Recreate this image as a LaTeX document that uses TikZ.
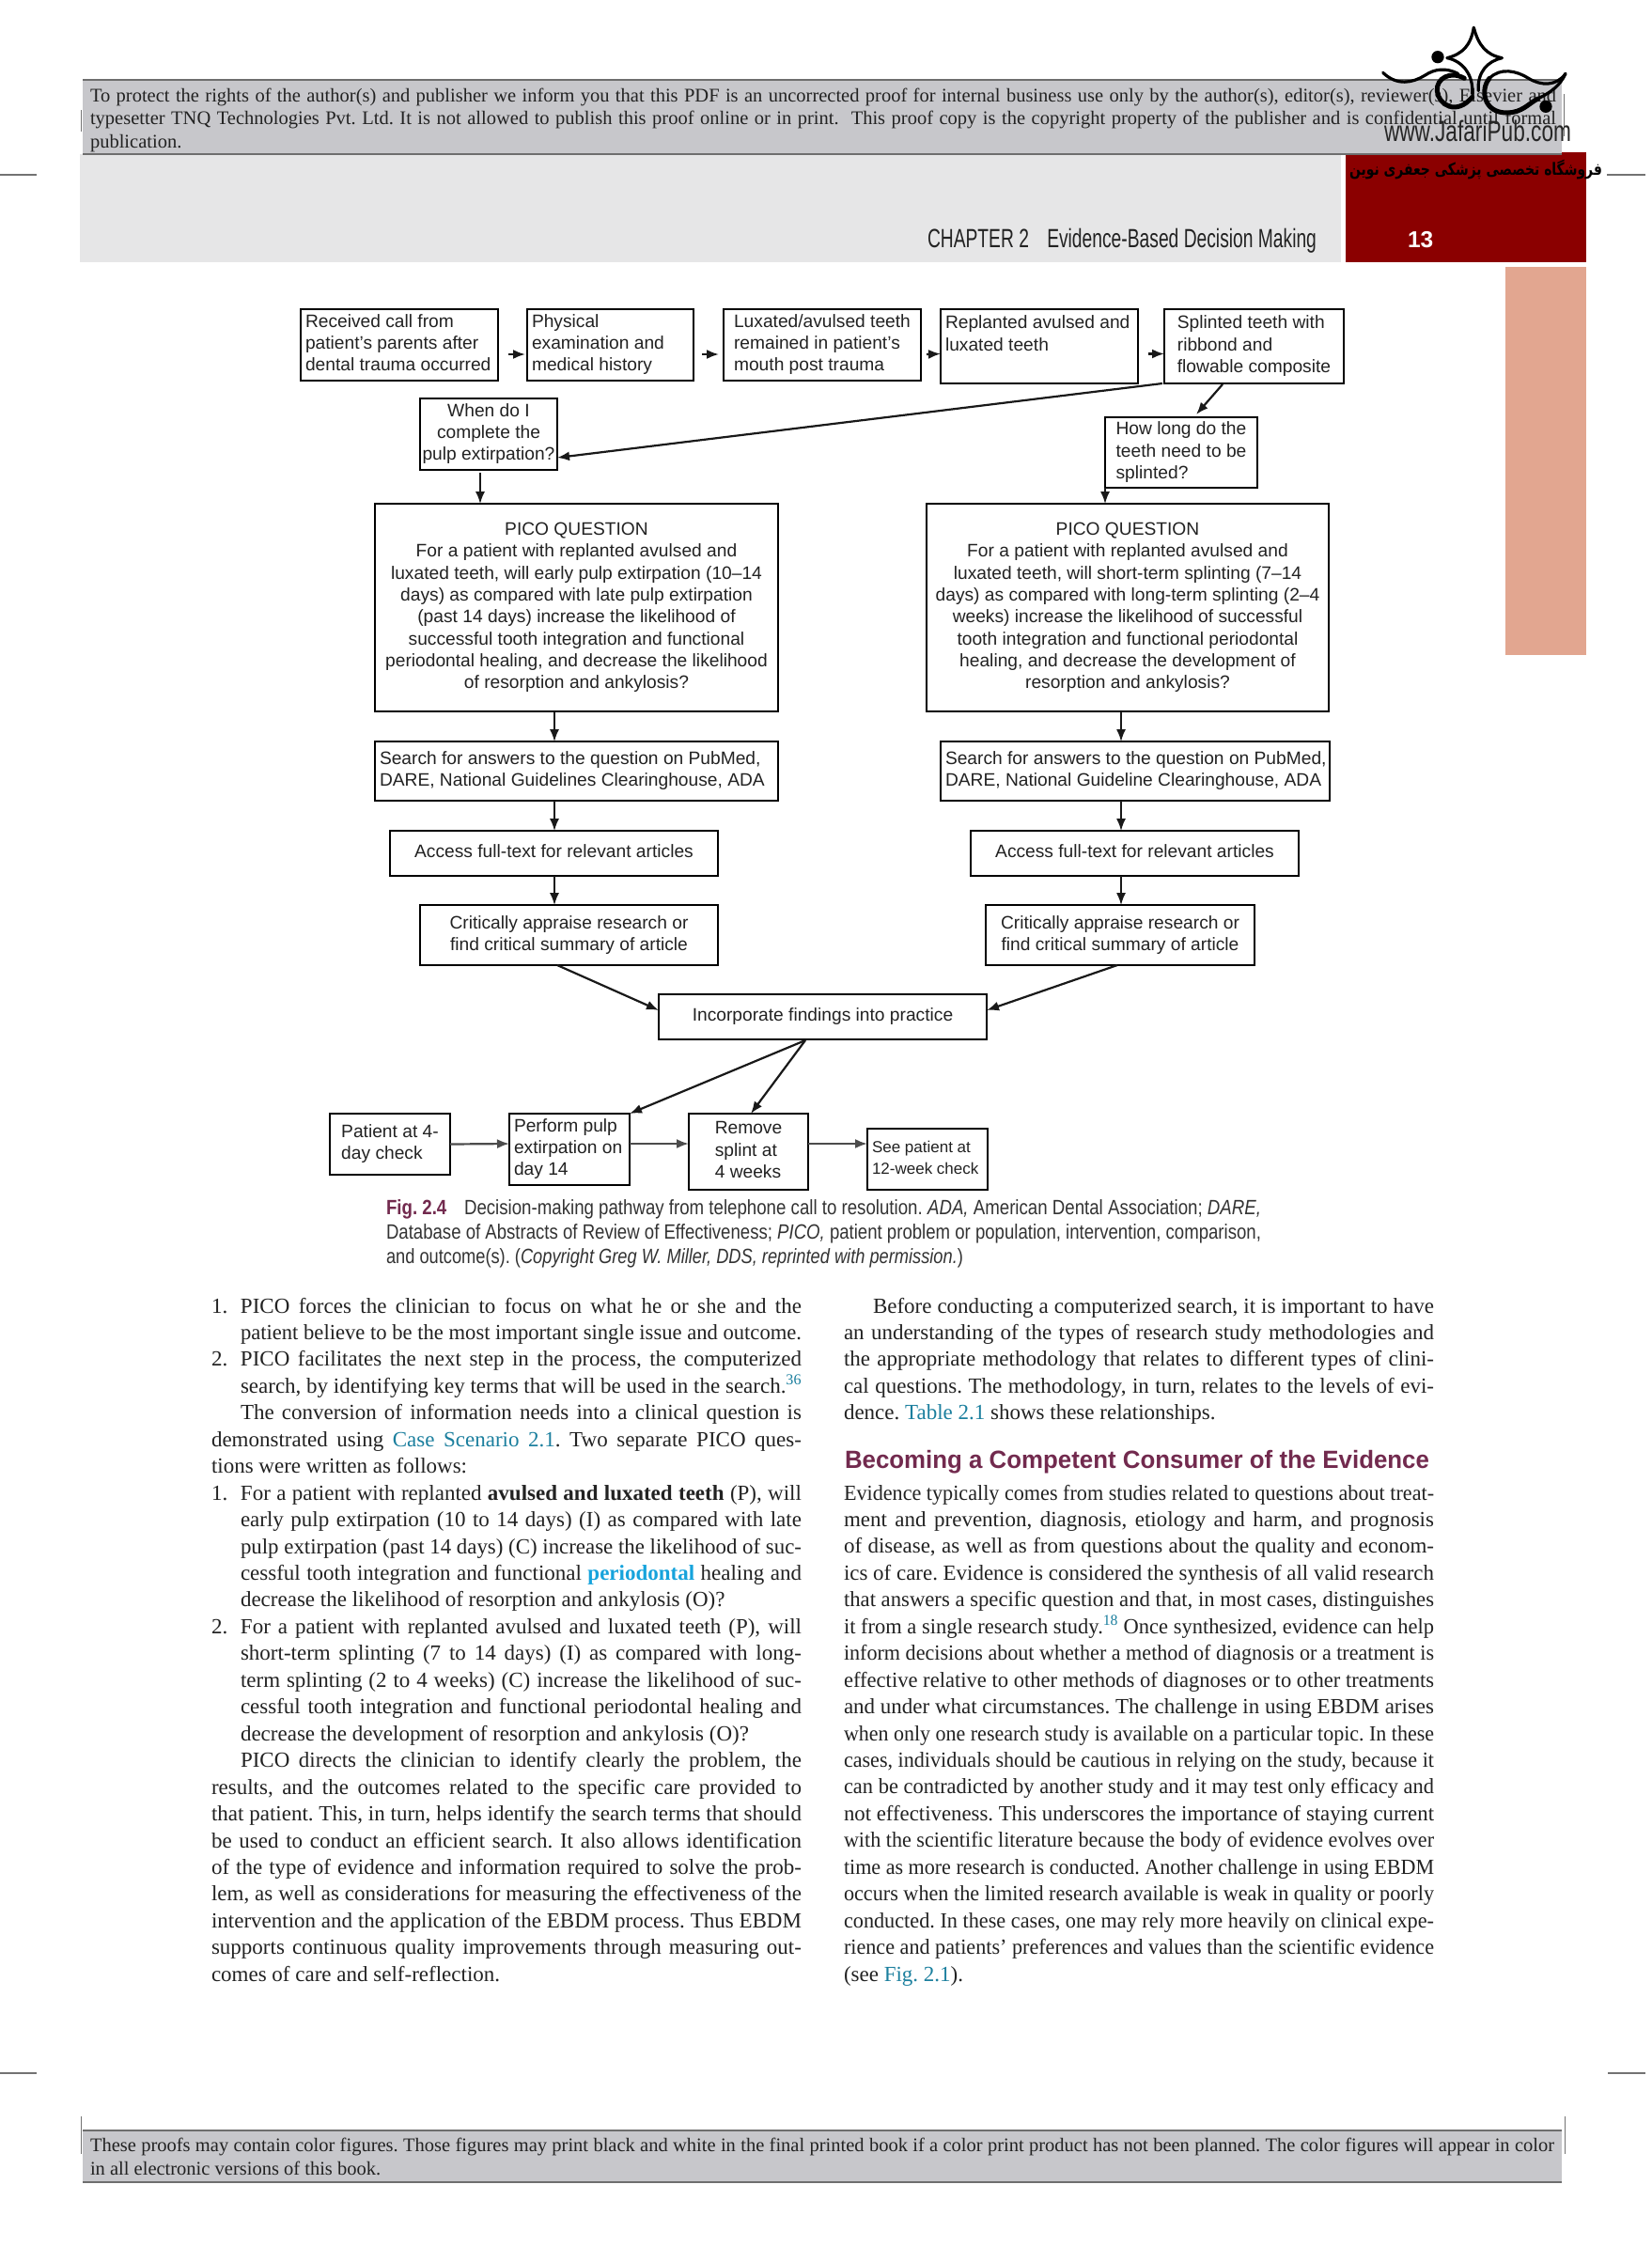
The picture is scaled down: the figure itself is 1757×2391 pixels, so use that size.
\documentclass[tikz,border=0pt]{standalone}
\usepackage{fontspec}
\usepackage{graphicx}
\usetikzlibrary{arrows.meta,calc}
\setmainfont{Liberation Serif}
\newfontfamily\arial{Liberation Sans}
\newfontfamily\farsi[Script=Arabic]{DejaVu Sans}
\TeXXeTstate=1
\frenchspacing
\definecolor{redband}{HTML}{8B0000}
\definecolor{salmon}{HTML}{E2A690}
\definecolor{band}{HTML}{E6E6E7}
\definecolor{proof}{HTML}{C7C7CB}
\definecolor{prooflin}{HTML}{6E6E6E}
\definecolor{linkc}{HTML}{1B7F9E}
\definecolor{brightl}{HTML}{16A3DC}
\definecolor{plum}{HTML}{722A4E}
\definecolor{ink}{HTML}{222222}
\newcommand{\boxfont}{\arial\fontsize{19.2}{23.3}\selectfont}
\newcommand{\bx}[8]{%
  \pgfmathsetmacro\bxw{#6-#4}\pgfmathsetmacro\bxh{#7-#5}%
  \pgfmathsetmacro\bxi{#6-#4-10}%
  \node[flowbox,minimum width=\bxw pt,minimum height=\bxh pt] (#3) at ({(#4+#6)/2},{(#5+#7)/2})
    {\raisebox{-1.5pt}{\makebox[\bxi pt][#1]{\begin{tabular}{@{}#2@{}}#8\end{tabular}}}};}
\newlength\bodyw
\newlength\tmpw
\newcommand{\fitto}[2]{\setlength\tmpw{#1}\setbox0\hbox{#2}%
  \ifdim\wd0>\tmpw\resizebox{\tmpw}{\height}{\box0}\else\hbox to \tmpw{#2}\fi}
\newcommand{\Jl}[1]{\hbox to \bodyw{\fitto{\bodyw}{#1}}}
\newcommand{\Ji}[1]{\hbox to \bodyw{\hskip31pt\fitto{\dimexpr\bodyw-31pt\relax}{#1}}}
\newcommand{\Jn}[2]{\hbox to \bodyw{\hbox to 31pt{#1\hfil}\fitto{\dimexpr\bodyw-31pt\relax}{#2}}}
\newcommand{\El}[1]{\hbox{#1}}
\newcommand{\Ei}[1]{\hbox{\hskip31pt #1}}
\newcommand{\lnk}[1]{\textcolor{linkc}{#1}}
\newcommand{\sups}[1]{\textsuperscript{\textcolor{linkc}{#1}}}
\newcommand{\bodyset}{\setlength\bodyw{628pt}\fontsize{23}{28.45}\selectfont\baselineskip=28.45pt\lineskiplimit=-100pt\lineskip=0pt}
\tikzset{
  flowbox/.style={draw=black,line width=2.3pt,fill=white,inner sep=0pt,outer sep=0pt,font=\boxfont,text=ink},
  arr/.style={-{Latex[length=13pt,width=10pt]},line width=2.2pt,draw=black!90},
  soft/.style={-{Latex[length=13pt,width=10pt]},line width=2.2pt,draw=black!70},
  crop/.style={draw=black!55,line width=1.5pt},
  txt/.style={inner sep=0pt,outer sep=0pt,anchor=base west,text=ink},
  logo/.style={draw=black,line width=3.2pt,line cap=round}
}
\begin{document}
\begin{tikzpicture}[x=1pt,y=-1pt]
\useasboundingbox (0,0) rectangle (1757,2391);
\fill[white] (0,0) rectangle (1757,2391);
% crop marks
\draw[crop] (0,186) -- (39,186);
\draw[crop] (1710,186) -- (1751,186);
\draw[crop] (0,2206) -- (39,2206);
\draw[crop] (1711,2206) -- (1751,2206);
\draw[black!55,line width=1pt] (86,117) -- (86,140);
\draw[black!55,line width=1pt] (1664,100) -- (1664,145);
\draw[black!55,line width=1pt] (86,2252) -- (86,2292);
\draw[black!55,line width=1pt] (1665,2252) -- (1665,2292);
% page head
\fill[band] (85,164) rectangle (1427,279);
\fill[redband] (1432,162) rectangle (1688,279);
\fill[salmon] (1602,284) rectangle (1688,697);
\fill[proof] (88,85) rectangle (1662,164);
\draw[prooflin,line width=2pt] (88,85) -- (1662,85);
\draw[prooflin,line width=2pt] (88,164) -- (1662,164);
\node[txt] (protect) at (96,108) {\vtop{\fontsize{20.5}{24.6}\selectfont\baselineskip=24.6pt\lineskiplimit=-100pt
  \hbox{\fitto{1560pt}{To protect the rights of the author(s) and publisher we inform you that this PDF is an uncorrected proof for internal business use only by the author(s), editor(s), reviewer(s), Elsevier and}}
  \hbox{\fitto{1560pt}{typesetter TNQ Technologies Pvt. Ltd. It is not allowed to publish this proof online or in print.\ \ This proof copy is the copyright property of the publisher and is confidential until formal}}
  \hbox{publication.}}};
\node[txt,font=\arial\fontsize{28}{30}\selectfont] (chap) at (987,263) {\resizebox{414pt}{\height}{CHAPTER 2\quad Evidence-Based Decision Making}};
\node[txt,text=white,font=\arial\bfseries\fontsize{24.5}{30}\selectfont] (pageno) at (1498,263) {13};
% logo
\begin{scope}[shift={(1460,20)},x=0.3333pt,y=-0.3333pt]
\fill[black] (210,122) circle (20);
\fill[black] (555,280) circle (20);
\draw[logo] (325,28) .. controls (315,85) and (290,112) .. (240,125);
\draw[logo] (325,28) .. controls (340,85) and (365,115) .. (415,125);
\draw[logo] (240,125) .. controls (290,135) and (325,180) .. (320,240);
\draw[logo] (415,125) .. controls (370,135) and (335,170) .. (340,230);
\draw[logo] (35,172) .. controls (80,215) and (130,205) .. (170,180) .. controls (200,160) and (235,155) .. (275,175);
\draw[logo,line width=5pt] (295,190) .. controls (250,165) and (205,190) .. (208,230) .. controls (212,275) and (270,310) .. (320,250);
\draw[logo] (618,175) .. controls (590,215) and (540,215) .. (500,190) .. controls (460,165) and (410,155) .. (375,190);
\draw[logo,line width=5pt] (375,190) .. controls (345,225) and (355,300) .. (430,300) .. controls (480,300) and (500,270) .. (530,255);
\draw[logo] (530,255) .. controls (570,235) and (600,215) .. (618,175);
\end{scope}
\node[txt,text=black!85,font=\arial\fontsize{31}{32}\selectfont] (wm) at (1473,150) {\resizebox{199pt}{\height}{www.JafariPub.com}};
\node[txt,text=black,font=\farsi\bfseries\fontsize{18}{20}\selectfont] (shop) at (1436,186) {\resizebox{269pt}{\height}{\beginR فروشگاه تخصصی پزشکی جعفری نوین\endR}};
% flow chart
\bx{l}{l}{b1}{320}{329}{530}{405}{Received call from\\patient’s parents after\\dental trauma occurred}
\bx{l}{l}{b2}{561}{329}{738}{405}{Physical\\examination and\\medical history}
\bx{c}{l}{b3}{770}{329}{980}{405}{Luxated/avulsed teeth\\remained in patient’s\\mouth post trauma}
\bx{l}{l}{b4}{1001}{329}{1211}{408}{Replanted avulsed and\\luxated teeth\\\phantom{x}}
\bx{c}{l}{b5}{1239}{329}{1430}{408}{Splinted teeth with\\ribbond and\\flowable composite}
\bx{c}{c}{when}{447}{424}{593}{500}{When do I\\complete the\\pulp extirpation?}
\bx{c}{l}{how}{1176}{444}{1338}{519}{How long do the\\teeth need to be\\splinted?}
\bx{c}{c}{pL}{399}{536}{828}{757}{PICO QUESTION\\For a patient with replanted avulsed and\\luxated teeth, will early pulp extirpation (10–14\\days) as compared with late pulp extirpation\\(past 14 days) increase the likelihood of\\successful tooth integration and functional\\periodontal healing, and decrease the likelihood\\of resorption and ankylosis?}
\bx{c}{c}{pR}{986}{536}{1414}{757}{PICO QUESTION\\For a patient with replanted avulsed and\\luxated teeth, will short-term splinting (7–14\\days) as compared with long-term splinting (2–4\\weeks) increase the likelihood of successful\\tooth integration and functional periodontal\\healing, and decrease the development of\\resorption and ankylosis?}
\bx{l}{l}{sL}{399}{789}{828}{852}{Search for answers to the question on PubMed,\\DARE, National Guidelines Clearinghouse, ADA}
\bx{l}{l}{sR}{1001}{789}{1415}{852}{Search for answers to the question on PubMed,\\DARE, National Guideline Clearinghouse, ADA}
\bx{c}{c}{aL}{415}{884}{764}{932}{Access full-text for relevant articles}
\bx{c}{c}{aR}{1033}{884}{1382}{932}{Access full-text for relevant articles}
\bx{c}{c}{cL}{447}{963}{764}{1027}{Critically appraise research or\\find critical summary of article}
\bx{c}{c}{cR}{1049}{963}{1335}{1027}{Critically appraise research or\\find critical summary of article}
\bx{c}{c}{inc}{701}{1058}{1050}{1106}{Incorporate findings into practice}
\bx{c}{l}{pat}{351}{1185}{479}{1250}{Patient at 4-\\day check}
\bx{l}{l}{perf}{542}{1185}{670}{1261}{Perform pulp\\extirpation on\\day 14}
\bx{c}{l}{rem}{733}{1185}{860}{1266}{Remove\\splint at\\4 weeks}
\bx{l}{l}{see}{923}{1201}{1051}{1266}{\fontsize{17}{23.3}\selectfont See patient at\\\fontsize{17}{23.3}\selectfont 12-week check}
% connectors
\draw[arr] ($(b1.east)+(11,10)$) -- ($(b2.west)+(-2,10)$);
\draw[arr] ($(b2.east)+(9,10)$) -- ($(b3.west)+(-5,10)$);
\draw[arr] ($(b3.east)+(6,10)$) -- ($(b4.west)+(0,8)$);
\draw[arr] ($(b4.east)+(11,8)$) -- ($(b5.west)+(0,8)$);
\draw[arr] ($(b5.south west)+(-2,0)$) -- ($(when.east)+(0,25)$);
\draw[arr] ($(b5.south)+(-33.5,1)$) -- ($(how.north)+(16,-3)$);
\draw[arr,line width=1.6pt] ($(when.south)+(-9,3)$) -- ($(pL.north)+(-102.5,0)$);
\draw[arr,line width=1.6pt] (how.south west) -- ($(pR.north)+(-24,0)$);
\draw[arr,line width=1.6pt] ($(pL.south)+(-23.5,0)$) -- ($(sL.north)+(-23.5,0)$);
\draw[arr,line width=1.6pt] ($(pR.south)+(-7,0)$) -- ($(sR.north)+(-15,0)$);
\draw[arr,line width=1.6pt] ($(sL.south)+(-23.5,0)$) -- ($(aL.north)+(0.5,0)$);
\draw[arr,line width=1.6pt] ($(sR.south)+(-15,0)$) -- ($(aR.north)+(-14.5,0)$);
\draw[arr,line width=1.6pt] ($(aL.south)+(0.5,0)$) -- ($(cL.north)+(-15.5,0)$);
\draw[arr,line width=1.6pt] ($(aR.south)+(-14.5,0)$) -- ($(cR.north)+(1,0)$);
\draw[arr] ($(cL.south)+(-12.5,0)$) -- ($(inc.west)+(0,-7)$);
\draw[arr] ($(cR.south)+(-3,0)$) -- ($(inc.east)+(0,-7)$);
\draw[arr] ($(inc.south)+(-18.5,1)$) -- (perf.north east);
\draw[arr] ($(inc.south)+(-18.5,1)$) -- ($(rem.north)+(2.5,0)$);
\draw[soft] ($(pat.east)+(0,0)$) -- ($(perf.west)+(0,-6)$);
\draw[soft] ($(perf.east)+(0,-6)$) -- ($(rem.west)+(0,-8.5)$);
\draw[soft] ($(rem.east)+(0,-8.5)$) -- ($(see.west)+(0,-16.5)$);
% caption
\node[txt,font=\arial\fontsize{22}{26}\selectfont,text=black!80] (cap) at (411,1292) {\vtop{\baselineskip=26pt\lineskiplimit=-100pt
  \hbox{\fitto{931pt}{\textcolor{plum}{\bfseries Fig. 2.4}\quad Decision-making pathway from telephone call to resolution. \emph{ADA,} American Dental Association; \emph{DARE,}}}
  \hbox{\fitto{931pt}{Database of Abstracts of Review of Effectiveness; \emph{PICO,} patient problem or population, intervention, comparison,}}
  \hbox{\resizebox{614pt}{\height}{and outcome(s). (\emph{Copyright Greg W. Miller, DDS, reprinted with permission.})}}}};
% left column
\node[txt] (colL) at (225,1397) {\vtop{\bodyset
\Jn{1.}{PICO forces the clinician to focus on what he or she and the}
\Ji{patient believe to be the most important single issue and outcome.}
\Jn{2.}{PICO facilitates the next step in the process, the computerized}
\Ji{search, by identifying key terms that will be used in the search.\sups{36}}
\Ji{The conversion of information needs into a clinical question is}
\Jl{demonstrated using \lnk{Case Scenario 2.1}. Two separate PICO ques-}
\El{tions were written as follows:}
\Jn{1.}{For a patient with replanted \textbf{avulsed and luxated teeth} (P), will}
\Ji{early pulp extirpation (10 to 14 days) (I) as compared with late}
\Ji{pulp extirpation (past 14 days) (C) increase the likelihood of suc-}
\Ji{cessful tooth integration and functional \textcolor{brightl}{\textbf{periodontal}} healing and}
\Ei{decrease the likelihood of resorption and ankylosis (O)?}
\Jn{2.}{For a patient with replanted avulsed and luxated teeth (P), will}
\Ji{short-term splinting (7 to 14 days) (I) as compared with long-}
\Ji{term splinting (2 to 4 weeks) (C) increase the likelihood of suc-}
\Ji{cessful tooth integration and functional periodontal healing and}
\Ei{decrease the development of resorption and ankylosis (O)?}
\Ji{PICO directs the clinician to identify clearly the problem, the}
\Jl{results, and the outcomes related to the specific care provided to}
\Jl{that patient. This, in turn, helps identify the search terms that should}
\Jl{be used to conduct an efficient search. It also allows identification}
\Jl{of the type of evidence and information required to solve the prob-}
\Jl{lem, as well as considerations for measuring the effectiveness of the}
\Jl{intervention and the application of the EBDM process. Thus EBDM}
\Jl{supports continuous quality improvements through measuring out-}
\El{comes of care and self-reflection.}
}};
% right column
\node[txt] (colR1) at (898,1397) {\vtop{\bodyset
\Ji{Before conducting a computerized search, it is important to have}
\Jl{an understanding of the types of research study methodologies and}
\Jl{the appropriate methodology that relates to different types of clini-}
\Jl{cal questions. The methodology, in turn, relates to the levels of evi-}
\El{dence. \lnk{Table 2.1} shows these relationships.}
}};
\node[txt,text=plum,font=\arial\bfseries\fontsize{26.5}{30}\selectfont] (head) at (899,1562) {\resizebox{622pt}{\height}{Becoming a Competent Consumer of the Evidence}};
\node[txt] (colR2) at (898,1596) {\vtop{\bodyset
\Jl{Evidence typically comes from studies related to questions about treat-}
\Jl{ment and prevention, diagnosis, etiology and harm, and prognosis}
\Jl{of disease, as well as from questions about the quality and econom-}
\Jl{ics of care. Evidence is considered the synthesis of all valid research}
\Jl{that answers a specific question and that, in most cases, distinguishes}
\Jl{it from a single research study.\sups{18} Once synthesized, evidence can help}
\Jl{inform decisions about whether a method of diagnosis or a treatment is}
\Jl{effective relative to other methods of diagnoses or to other treatments}
\Jl{and under what circumstances. The challenge in using EBDM arises}
\Jl{when only one research study is available on a particular topic. In these}
\Jl{cases, individuals should be cautious in relying on the study, because it}
\Jl{can be contradicted by another study and it may test only efficacy and}
\Jl{not effectiveness. This underscores the importance of staying current}
\Jl{with the scientific literature because the body of evidence evolves over}
\Jl{time as more research is conducted. Another challenge in using EBDM}
\Jl{occurs when the limited research available is weak in quality or poorly}
\Jl{conducted. In these cases, one may rely more heavily on clinical expe-}
\Jl{rience and patients’ preferences and values than the scientific evidence}
\El{(see \lnk{Fig. 2.1}).}
}};
% bottom proof note
\fill[proof] (88,2267) rectangle (1662,2322);
\draw[prooflin,line width=2pt] (88,2267) -- (1662,2267);
\draw[prooflin,line width=1.5pt] (88,2322) -- (1662,2322);
\node[txt] (note) at (96,2289) {\vtop{\fontsize{20.5}{25}\selectfont\baselineskip=25pt\lineskiplimit=-100pt
  \hbox{\fitto{1558pt}{These proofs may contain color figures. Those figures may print black and white in the final printed book if a color print product has not been planned. The color figures will appear in color}}
  \hbox{in all electronic versions of this book.}}};
\end{tikzpicture}
\end{document}
